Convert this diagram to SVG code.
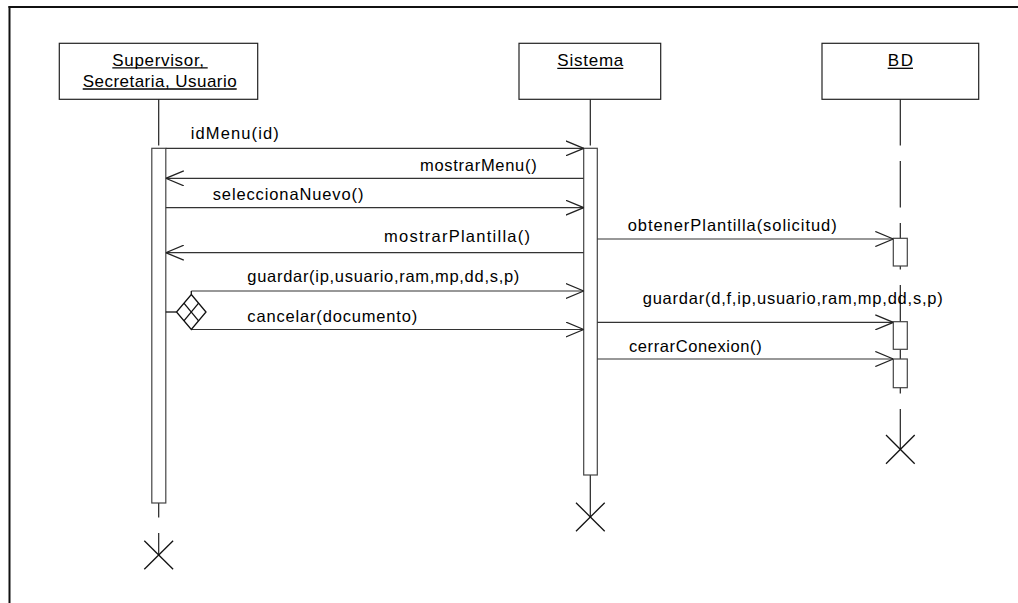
<svg xmlns="http://www.w3.org/2000/svg" width="1018" height="603" viewBox="0 0 1018 603">
<defs>
<style>
text{font-family:"Liberation Sans",Arial,sans-serif;fill:#000}
.hdr{font-size:17px}
.msg{font-size:16.5px}
.box{fill:#fff;stroke:#222;stroke-width:1.2}
.act{fill:#fff;stroke:#444;stroke-width:1.2}
.life{stroke:#222;stroke-width:1.2;stroke-dasharray:46.5 15.5;fill:none}
.ul{stroke:#000;stroke-width:1.3}
.m{stroke:#333;stroke-width:1.2;fill:none;marker-end:url(#ah)}
.x{stroke:#111;stroke-width:1.3}
</style>
<marker id="ah" viewBox="0 0 18 16" refX="18" refY="8" markerWidth="18" markerHeight="16" markerUnits="userSpaceOnUse" orient="auto">
<path d="M0,0.5 L18,8 L0,15.5" fill="none" stroke="#222" stroke-width="1.3"/>
</marker>
</defs>
<rect width="1018" height="603" fill="#fff"/>
<g id="frame">
<line x1="8.5" y1="7" x2="1018" y2="7" stroke="#111" stroke-width="2"/>
<line x1="9.5" y1="6" x2="9.5" y2="603" stroke="#111" stroke-width="2"/>
</g>
<g id="lifelines">
<line class="life" x1="158.7" y1="99" x2="158.7" y2="555"/>
<line class="life" x1="590.3" y1="99" x2="590.3" y2="517"/>
<line class="life" x1="900.3" y1="99" x2="900.3" y2="449"/>
</g>
<g id="node-supervisor">
<rect class="box" x="59.3" y="43.3" width="198.4" height="56"/>
<text class="hdr" x="112.3" y="65.5" textLength="91.7" lengthAdjust="spacing">Supervisor,</text>
<line class="ul" x1="112.3" y1="67.8" x2="207.7" y2="67.8"/>
<text class="hdr" x="82.7" y="86.5" textLength="154" lengthAdjust="spacing">Secretaria, Usuario</text>
<line class="ul" x1="82.7" y1="89" x2="236.7" y2="89"/>
<rect class="act" x="151.8" y="148.3" width="14" height="354.7"/>
<line class="x" x1="144.3" y1="540.7" x2="173.1" y2="569.3"/>
<line class="x" x1="173.1" y1="540.7" x2="144.3" y2="569.3"/>
</g>
<g id="node-sistema">
<rect class="box" x="519" y="43.3" width="141.7" height="56"/>
<text class="hdr" x="557.3" y="65.5" textLength="66" lengthAdjust="spacing">Sistema</text>
<line class="ul" x1="557.3" y1="68.3" x2="623.3" y2="68.3"/>
<rect class="act" x="583.7" y="148.3" width="13.6" height="326.7"/>
<line class="x" x1="576" y1="502.7" x2="604.7" y2="531.3"/>
<line class="x" x1="604.7" y1="502.7" x2="576" y2="531.3"/>
</g>
<g id="node-bd">
<rect class="box" x="822" y="43.3" width="156.7" height="56"/>
<text class="hdr" x="887.7" y="65.5" textLength="25.3" lengthAdjust="spacing">BD</text>
<line class="ul" x1="887.7" y1="68.3" x2="913" y2="68.3"/>
<rect class="act" x="893.3" y="238.3" width="14" height="27.7"/>
<rect class="act" x="893.3" y="321.7" width="14" height="27.6"/>
<rect class="act" x="893.3" y="359" width="14" height="28.7"/>
<line class="x" x1="886" y1="435" x2="914.7" y2="463.7"/>
<line class="x" x1="914.7" y1="435" x2="886" y2="463.7"/>
</g>
<g id="connectors">
<line class="m" x1="165.8" y1="148.3" x2="583.7" y2="148.3"/>
<line class="m" x1="583.7" y1="178.3" x2="165.8" y2="178.3"/>
<line class="m" x1="165.8" y1="207.7" x2="583.7" y2="207.7"/>
<line class="m" x1="583.7" y1="252.7" x2="165.8" y2="252.7"/>
<line class="m" x1="597.3" y1="239" x2="893.3" y2="239"/>
<line class="m" x1="191.3" y1="291" x2="583.7" y2="291"/>
<line class="m" x1="191.3" y1="329.5" x2="583.7" y2="329.5"/>
<line class="m" x1="597.3" y1="322.3" x2="893.3" y2="322.3"/>
<line class="m" x1="597.3" y1="359" x2="893.3" y2="359"/>
<g id="condition" stroke="#111" stroke-width="1.3" fill="#fff">
<line x1="165.8" y1="312" x2="176.5" y2="312"/>
<polygon points="191.3,294.5 206,312 191.3,329.5 176.5,312"/>
<line x1="183.9" y1="303.2" x2="198.6" y2="320.8"/>
<line x1="198.6" y1="303.2" x2="183.9" y2="320.8"/>
<line x1="191.3" y1="291" x2="191.3" y2="294.5"/>
</g>
<text class="msg" x="190.7" y="139" textLength="88" lengthAdjust="spacing">idMenu(id)</text>
<text class="msg" x="420" y="170.5" textLength="116.7" lengthAdjust="spacing">mostrarMenu()</text>
<text class="msg" x="212.7" y="200" textLength="150.7" lengthAdjust="spacing">seleccionaNuevo()</text>
<text class="msg" x="384" y="241.5" textLength="146" lengthAdjust="spacing">mostrarPlantilla()</text>
<text class="msg" x="627.7" y="230.5" textLength="209" lengthAdjust="spacing">obtenerPlantilla(solicitud)</text>
<text class="msg" x="247.3" y="282" textLength="272" lengthAdjust="spacing">guardar(ip,usuario,ram,mp,dd,s,p)</text>
<text class="msg" x="247.3" y="321.5" textLength="170" lengthAdjust="spacing">cancelar(documento)</text>
<text class="msg" x="642.7" y="303.5" textLength="300" lengthAdjust="spacing">guardar(d,f,ip,usuario,ram,mp,dd,s,p)</text>
<text class="msg" x="629" y="351.5" textLength="132.7" lengthAdjust="spacing">cerrarConexion()</text>
</g>
</svg>
